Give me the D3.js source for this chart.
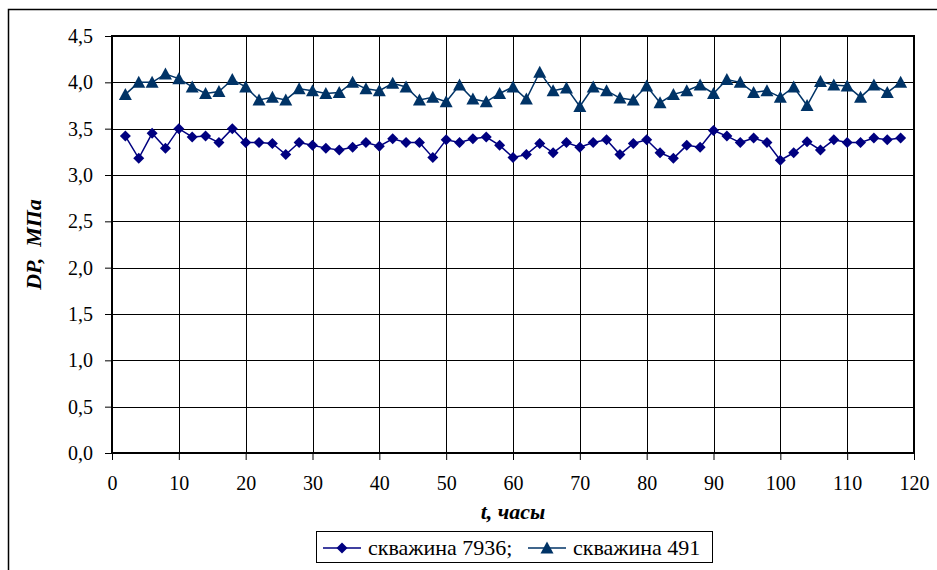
<!DOCTYPE html>
<html>
<head>
<meta charset="utf-8">
<script src="https://cdn.jsdelivr.net/npm/d3@7"></script>
</head>
<body style="margin:0">
<div id="chart"></div>
<script>
// hours (x), every 2 h
var hours = d3.range(2, 119, 2);

// скважина 7936
var well7936 = [3.42, 3.18, 3.45, 3.29, 3.50, 3.41, 3.42, 3.35, 3.50, 3.35,
                3.35, 3.34, 3.22, 3.35, 3.32, 3.29, 3.27, 3.30, 3.35, 3.31,
                3.39, 3.35, 3.35, 3.19, 3.38, 3.35, 3.39, 3.41, 3.32, 3.19,
                3.22, 3.34, 3.24, 3.35, 3.30, 3.35, 3.38, 3.22, 3.34, 3.38,
                3.24, 3.18, 3.32, 3.30, 3.48, 3.42, 3.35, 3.40, 3.35, 3.16,
                3.24, 3.36, 3.27, 3.38, 3.35, 3.35, 3.40, 3.38, 3.40];

// скважина 491
var well491 = [3.87, 4.00, 4.00, 4.09, 4.04, 3.95, 3.88, 3.90, 4.03, 3.95,
               3.81, 3.84, 3.81, 3.93, 3.91, 3.88, 3.89, 4.00, 3.93, 3.91,
               3.99, 3.95, 3.81, 3.84, 3.79, 3.97, 3.82, 3.79, 3.88, 3.95,
               3.82, 4.11, 3.91, 3.94, 3.74, 3.95, 3.91, 3.83, 3.81, 3.96,
               3.78, 3.87, 3.91, 3.97, 3.88, 4.03, 4.00, 3.89, 3.91, 3.84,
               3.95, 3.75, 4.01, 3.97, 3.96, 3.84, 3.97, 3.89, 4.00];

var xTicks = d3.range(0, 121, 10);
var yTicks = d3.range(0, 4.51, 0.5);

var W = 937, H = 570;
var margin = {top: 36, right: 23, bottom: 117, left: 112},
    width = W - margin.left - margin.right,
    height = H - margin.top - margin.bottom;

var serif = "Liberation Serif";

var svg = d3.select("#chart").append("svg")
    .attr("width", W)
    .attr("height", H);

// outer chart frame (only left and top edges visible)
svg.append("path")
   .attr("d", "M8.5,570 V9.5 H937")
   .attr("fill", "none")
   .attr("stroke", "#000")
   .attr("stroke-width", 1.5);

var g = svg.append("g")
   .attr("transform", "translate(" + margin.left + "," + margin.top + ")");

var x = d3.scaleLinear().domain([0, 120]).range([0, width]);
var y = d3.scaleLinear().domain([0, 4.5]).range([height, 0]);

// grid
g.append("g").selectAll("line")
  .data(yTicks.slice(1, -1))
  .enter().append("line")
  .attr("x1", 0).attr("x2", width)
  .attr("y1", d => Math.round(y(d)) + 0.5).attr("y2", d => Math.round(y(d)) + 0.5)
  .attr("stroke", "#000").attr("stroke-width", 1);

g.append("g").selectAll("line")
  .data(xTicks.slice(1, -1))
  .enter().append("line")
  .attr("y1", 0).attr("y2", height)
  .attr("x1", d => Math.round(x(d)) + 0.5).attr("x2", d => Math.round(x(d)) + 0.5)
  .attr("stroke", "#000").attr("stroke-width", 1);

// axes
var fmt = d => d3.format(".1f")(d).replace(".", ",");

var yAxis = g.append("g")
  .call(d3.axisLeft(y).tickValues(yTicks).tickFormat(fmt).tickSize(7).tickPadding(12));
var xAxis = g.append("g")
  .attr("transform", "translate(0," + height + ")")
  .call(d3.axisBottom(x).tickValues(xTicks).tickSize(7).tickPadding(16));

[xAxis, yAxis].forEach(a => {
  a.attr("font-family", null).attr("font-size", null);
  a.select(".domain").remove();
  a.selectAll("line").attr("stroke", "#000");
  a.selectAll("text")
   .attr("fill", "#000")
   .attr("font-family", serif)
   .attr("font-size", 20);
});

// plot area border
g.append("rect")
  .attr("x", 0).attr("y", 0)
  .attr("width", width).attr("height", height)
  .attr("fill", "none")
  .attr("stroke", "#000")
  .attr("stroke-width", 2);

// series
var diamond = "M0,-5.5 L5.5,0 L0,5.5 L-5.5,0 Z";
var triangle = "M0,-6.5 L6.5,5.5 L-6.5,5.5 Z";

var series = [
  {name: "скважина 7936;", values: well7936, color: "#000080", marker: diamond},
  {name: "скважина 491", values: well491, color: "#003366", marker: triangle}
];

var line = d3.line()
  .x((d, i) => x(hours[i]))
  .y(d => y(d));

series.forEach(s => {
  g.append("path")
    .datum(s.values)
    .attr("d", line)
    .attr("fill", "none")
    .attr("stroke", s.color)
    .attr("stroke-width", 1.5);

  g.append("g").selectAll("path")
    .data(s.values)
    .enter().append("path")
    .attr("d", s.marker)
    .attr("transform", (d, i) => "translate(" + x(hours[i]) + "," + y(d) + ")")
    .attr("fill", s.color);
});

// axis titles
svg.append("text")
  .attr("x", margin.left + width / 2)
  .attr("y", 519)
  .attr("text-anchor", "middle")
  .attr("font-family", serif)
  .attr("font-size", 22)
  .attr("font-weight", "bold")
  .attr("font-style", "italic")
  .text("t, часы");

svg.append("text")
  .attr("transform", "translate(41," + (margin.top + height / 2) + ") rotate(-90)")
  .attr("text-anchor", "middle")
  .attr("font-family", serif)
  .attr("font-size", 22)
  .attr("font-weight", "bold")
  .attr("font-style", "italic")
  .text("DP,\u00a0\u00a0MПa");

// legend
var legend = svg.append("g");
legend.append("rect")
  .attr("x", 316.5).attr("y", 531.5)
  .attr("width", 396).attr("height", 31)
  .attr("fill", "#fff")
  .attr("stroke", "#000")
  .attr("stroke-width", 1);

var legX = [323, 528];
series.forEach((s, i) => {
  var lg = legend.append("g").attr("transform", "translate(" + legX[i] + ",548)");
  lg.append("line").attr("x1", 0).attr("x2", 38)
    .attr("stroke", s.color).attr("stroke-width", 1.5);
  lg.append("path").attr("d", s.marker)
    .attr("transform", "translate(19,0)")
    .attr("fill", s.color);
  lg.append("text")
    .attr("x", 45).attr("y", 7)
    .attr("font-family", serif)
    .attr("font-size", 22)
    .text(s.name);
});
</script>
</body>
</html>
